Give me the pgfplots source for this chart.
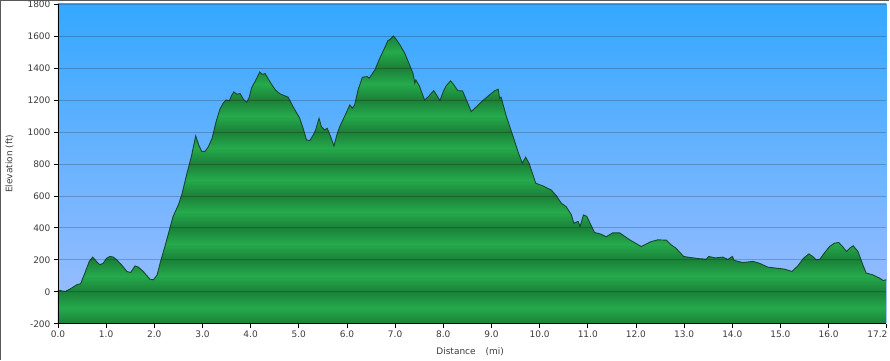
\documentclass[border=0pt]{standalone}
\usepackage{fontspec}
\setmainfont{DejaVu Sans}
\usepackage{pgfplots}
\pgfplotsset{compat=1.18}
\usepackage{pgfplotstable}

\definecolor{gd}{RGB}{27,128,56}
\definecolor{gl}{RGB}{37,170,76}
\definecolor{skytop}{RGB}{52,168,255}
\definecolor{skybot}{RGB}{160,190,255}
\definecolor{edge}{RGB}{24,70,44}
\definecolor{txt}{RGB}{60,60,60}

\pgfdeclareverticalshading{bands}{100bp}{%
color(0bp)=(gd); color(25bp)=(gd);
color(27.7778bp)=(gl); color(30.5556bp)=(gd);
color(33.3333bp)=(gl); color(36.1111bp)=(gd);
color(38.8889bp)=(gl); color(41.6667bp)=(gd);
color(44.4444bp)=(gl); color(47.2222bp)=(gd);
color(50bp)=(gl); color(52.7778bp)=(gd);
color(55.5556bp)=(gl); color(58.3333bp)=(gd);
color(61.1111bp)=(gl); color(63.8889bp)=(gd);
color(66.6667bp)=(gl); color(69.4444bp)=(gd);
color(72.2222bp)=(gl); color(75bp)=(gd);
color(100bp)=(gd)}

\pgfplotstableread{
x y
0.00 -200
0.00 10
0.15 2
0.25 17
0.39 44
0.47 50
0.56 118
0.65 190
0.72 217
0.80 190
0.87 169
0.94 179
1.01 210
1.08 221
1.15 217
1.22 200
1.32 169
1.43 127
1.51 121
1.60 162
1.67 154
1.77 127
1.91 79
1.98 75
2.06 106
2.13 190
2.22 283
2.39 471
2.50 544
2.57 606
2.67 731
2.77 846
2.86 975
2.92 920
2.98 880
3.05 877
3.12 905
3.20 960
3.28 1060
3.36 1140
3.43 1180
3.49 1200
3.56 1195
3.60 1225
3.65 1250
3.72 1235
3.78 1240
3.86 1200
3.92 1185
3.97 1215
4.02 1275
4.10 1320
4.19 1375
4.24 1360
4.30 1365
4.37 1330
4.44 1295
4.52 1260
4.61 1238
4.78 1217
4.88 1158
5.02 1085
5.10 1012
5.16 950
5.23 946
5.30 981
5.35 1012
5.42 1085
5.47 1033
5.54 1012
5.59 1023
5.66 971
5.73 912
5.79 981
5.85 1033
5.95 1096
6.06 1169
6.11 1148
6.16 1169
6.23 1262
6.32 1342
6.42 1346
6.46 1335
6.58 1388
6.68 1460
6.78 1523
6.85 1571
6.90 1579
6.96 1600
7.01 1585
7.10 1544
7.20 1492
7.30 1419
7.37 1367
7.41 1304
7.43 1325
7.51 1283
7.61 1200
7.68 1217
7.80 1258
7.86 1231
7.93 1196
8.00 1252
8.06 1288
8.15 1319
8.22 1294
8.30 1258
8.40 1256
8.48 1200
8.58 1127
8.69 1158
8.82 1196
8.96 1231
9.07 1258
9.14 1267
9.17 1210
9.20 1217
9.31 1096
9.45 971
9.55 877
9.64 804
9.71 842
9.78 804
9.92 679
10.07 662
10.24 637
10.35 600
10.45 554
10.55 533
10.66 481
10.71 429
10.80 440
10.84 408
10.91 481
10.98 471
11.14 371
11.28 360
11.38 344
11.52 369
11.66 369
11.87 325
12.11 283
12.30 312
12.45 325
12.63 323
12.73 294
12.83 273
12.99 221
13.11 215
13.32 207
13.46 204
13.51 221
13.65 212
13.80 217
13.91 202
14.00 221
14.04 196
14.22 183
14.43 190
14.56 179
14.74 154
14.91 148
15.08 142
15.24 127
15.36 162
15.48 210
15.59 237
15.67 221
15.74 200
15.82 204
15.91 242
16.02 283
16.12 304
16.21 308
16.29 283
16.37 252
16.44 273
16.51 288
16.61 252
16.71 169
16.78 117
16.92 106
17.06 85
17.13 71
17.20 75
17.20 -200
}\prof

\begin{document}
\begin{tikzpicture}
\begin{axis}[
  at={(58pt,36pt)}, anchor=south west,
  width=829pt, height=320pt, scale only axis,
  xmin=0, xmax=17.2, ymin=-200, ymax=1800,
  axis x line*=bottom, axis y line*=left,
  xtick={0,1,...,16,17.2},
  xticklabels={0.0,1.0,2.0,3.0,4.0,5.0,6.0,7.0,8.0,9.0,10.0,11.0,12.0,13.0,14.0,15.0,16.0,\makebox[2pt][r]{17.2}},
  ytick={-200,0,200,400,600,800,1000,1200,1400,1600,1800},
  yticklabels={-200,0,200,400,600,800,1000,1200,1400,1600,1800},
  tick align=outside, major tick length=4pt,
  tick style={black, line width=0.7pt},
  ymajorgrids, major grid style={black, opacity=0.2, line width=0.7pt},
  axis line style={black, line width=0.9pt},
  axis on top,
  ticklabel style={font=\fontsize{9}{10}\selectfont, text=txt},
  axis background/.style={shade, top color=skytop, bottom color=skybot},
  xlabel={Distance\hspace{1.1em}(mi)},
  ylabel={Elevation (ft)},
  every axis x label/.style={at={(axis description cs:0.4975,-0.088)}, anchor=center, font=\fontsize{9}{10}\selectfont, text=txt},
  every axis y label/.style={at={(axis description cs:-0.0585,0.5)}, rotate=90, anchor=center, font=\fontsize{9}{10}\selectfont, text=txt},
]
\addplot[shade, shading=bands, draw=none] table[x=x, y=y] {\prof};
\addplot[edge, line width=0.9pt, restrict y to domain=-150:2000] table[x=x, y=y] {\prof};
\end{axis}
\pgfresetboundingbox
\path (0,0) rectangle (890pt,360pt);
\draw[black!65, line width=1.2pt] (0.6pt,0) -- (0.6pt,359.4pt) -- (890pt,359.4pt);
\end{tikzpicture}
\end{document}
